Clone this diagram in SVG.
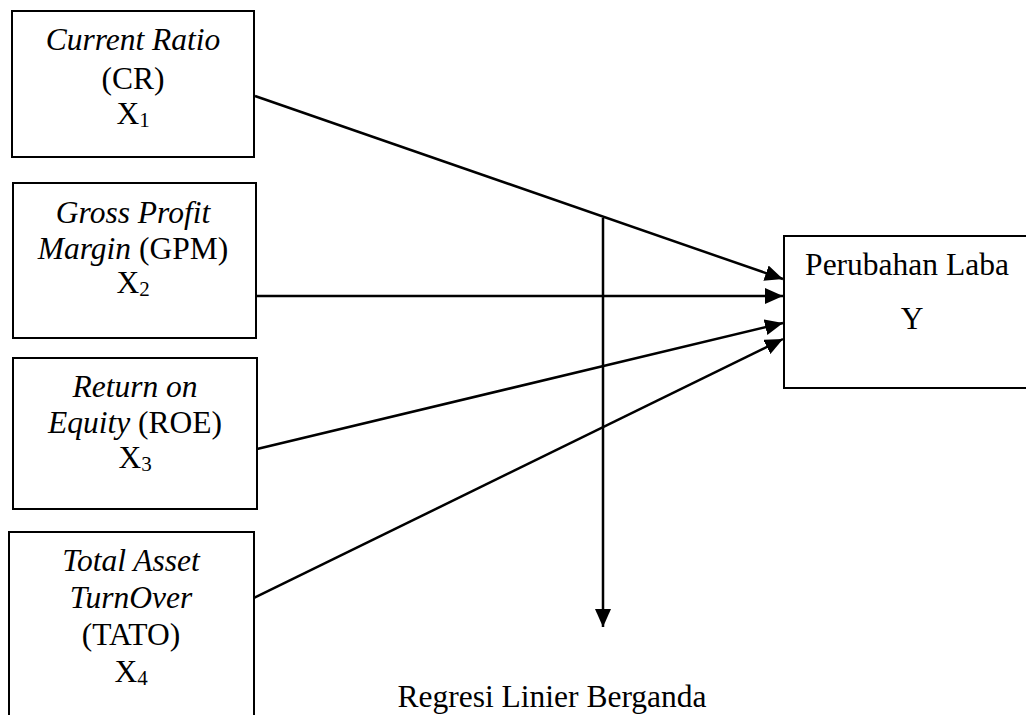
<svg xmlns="http://www.w3.org/2000/svg" width="1026" height="715" viewBox="0 0 1026 715">
<style>
.box{fill:#fff;stroke:#000;stroke-width:2}
.t{font-family:"Liberation Serif","Times New Roman",serif;font-size:31.5px;fill:#000;text-anchor:middle}
.i{font-style:italic}
.sub{font-size:21px}
.c{stroke:#000;stroke-width:2.5;fill:none}
</style>
<defs>
<marker id="ah" viewBox="0 0 18 16" refX="18" refY="8" markerWidth="18" markerHeight="16" markerUnits="userSpaceOnUse" orient="auto">
<path d="M0,0 L18,8 L0,16 Z" fill="#000"/>
</marker>
</defs>
<rect width="1026" height="715" fill="#fff"/>
<g id="x1">
<rect class="box" x="12" y="11" width="242" height="146"/>
<text class="t" x="133" y="50"><tspan class="i">Current Ratio</tspan></text>
<text class="t" x="133" y="89">(CR)</text>
<text class="t" x="133" y="124">X<tspan class="sub" dy="3">1</tspan></text>
</g>
<g id="x2">
<rect class="box" x="13" y="183" width="243" height="155"/>
<text class="t" x="133" y="223"><tspan class="i">Gross Profit</tspan></text>
<text class="t" x="133" y="259"><tspan class="i">Margin</tspan> (GPM)</text>
<text class="t" x="133" y="293">X<tspan class="sub" dy="3">2</tspan></text>
</g>
<g id="x3">
<rect class="box" x="13" y="358" width="244" height="151"/>
<text class="t" x="135" y="397"><tspan class="i">Return on</tspan></text>
<text class="t" x="135" y="433"><tspan class="i">Equity</tspan> (ROE)</text>
<text class="t" x="135" y="468">X<tspan class="sub" dy="3">3</tspan></text>
</g>
<g id="x4">
<rect class="box" x="9" y="532" width="245" height="200"/>
<text class="t" x="131" y="571"><tspan class="i">Total Asset</tspan></text>
<text class="t" x="131" y="608"><tspan class="i">TurnOver</tspan></text>
<text class="t" x="131" y="645">(TATO)</text>
<text class="t" x="131" y="682">X<tspan class="sub" dy="3">4</tspan></text>
</g>
<g id="y">
<rect class="box" x="784" y="236" width="250" height="152"/>
<text class="t" x="907" y="275">Perubahan Laba</text>
<text class="t" x="912" y="329">Y</text>
</g>
<g id="label">
<text class="t" x="552" y="707">Regresi Linier Berganda</text>
</g>
<g id="connectors">
<line class="c" x1="255" y1="96" x2="783" y2="279" marker-end="url(#ah)"/>
<line class="c" x1="256" y1="296" x2="783" y2="296" marker-end="url(#ah)"/>
<line class="c" x1="257" y1="449" x2="783" y2="323" marker-end="url(#ah)"/>
<line class="c" x1="254" y1="598" x2="783" y2="339" marker-end="url(#ah)"/>
<line class="c" x1="603" y1="218" x2="603" y2="627" marker-end="url(#ah)"/>
</g>
</svg>
